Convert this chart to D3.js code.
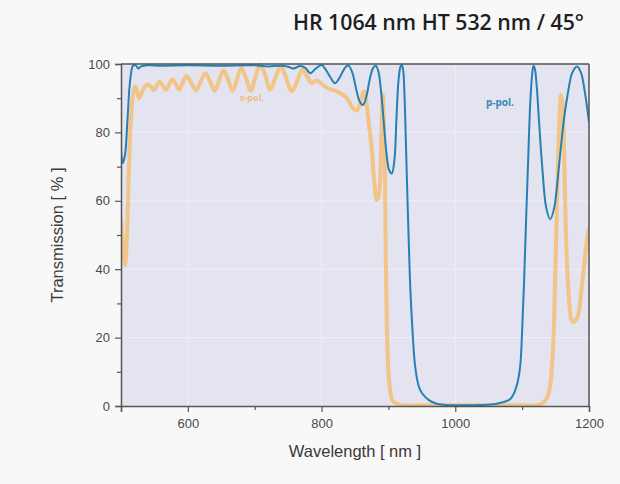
<!DOCTYPE html>
<html><head><meta charset="utf-8">
<script src="https://cdn.jsdelivr.net/npm/d3@7"></script>
<style>
html,body{margin:0;padding:0;background:#f8f8f9;}
svg{display:block;}
</style></head>
<body>
<svg id="c" width="620" height="484"></svg>
<script>
const title = "HR 1064 nm HT 532 nm / 45°";
const xTicks = [600, 800, 1000, 1200];
const xMinor = [700, 900, 1100];
const yTicks = [0, 20, 40, 60, 80, 100];
const yMinor = [10, 30, 50, 70, 90];
const seriesNames = ["p-pol.", "s-pol."];

// p-pol. (blue)
const pWl = [500,502.5,506,509.5,513.5,518,522,526,530,540,560,600,650,700,720,740,750,758,768,776,783,791,800,806,813,820,827,834,840,846,852,857,862,867,872,877,881,885,889,893,897,901,905,909,912,915,918,920,922,924,926,929,932,936,940,945,950,960,970,985,1000,1040,1060,1075,1082,1086,1092,1097,1100,1103,1106,1109,1112,1115,1117,1119,1122,1125,1130,1136,1142,1148,1155,1162,1168,1175,1182,1188,1194,1200];
const pT  = [75,71,73.4,83,94.8,99.5,99.6,98.7,99.3,99.6,99.5,99.6,99.5,99.6,99.3,99.5,99.2,98.7,99.4,98.8,97.3,98.6,99.7,98.4,96.2,94.4,96,98.6,99.6,97.5,92.5,89,88,90.5,95.5,98.8,99.5,97.8,92,83,74,69,68,72,84,95,99.2,99.7,98.3,91,78,57,38,22,11.5,6,3.8,1.8,0.8,0.3,0.2,0.3,0.6,1.3,2,3,6,11.5,22,37,55,72,88,97,99.5,98.6,93,84,70,58,54.6,58,70,83,91,97.5,99.3,97.5,91.5,83];

// s-pol. (orange)
const sWl = [500,503,506,508.5,511,514.5,518,521,524,527,531,535,540,545,549,553,558,563,567,572,577,582,587,592,598,605,612,619,626,633,640,647,653,660,667,674,680,687,694,701,708,716,723,731,739,747,755,763,771,778,785,793,800,808,823,838,847,853,858,863.5,867.5,871,875,879,882.5,885,887.5,889.5,891.5,893,894.5,896,897.5,900,903,907,918,950,1000,1100,1125,1132,1137,1141,1144,1147,1149,1151,1152.6,1155.6,1158,1160,1161.6,1163.5,1165,1169,1175.6,1182,1189,1196.6,1200];
const sT  = [55,47,41.2,48,63.7,83,91,93.4,92.2,90,91.5,93.2,94,93.2,92.4,93.5,94.8,93.5,92.5,94,95.5,94,92.5,94.5,96.5,94.5,92.3,94.8,97.3,95,92.2,95.3,98.2,95.5,92.2,95.8,98.8,95.8,92.2,96.2,99.8,96.5,92.5,96,99.3,96,92,94.8,98.3,96.5,94.5,95.2,94.2,93,92,90,87,86.5,89,92,88,82,75.4,65,60.2,61,65.6,80,91,84,73,44,24.6,10,4,1.3,0.3,0.2,0.2,0.2,0.3,1,2.3,5,10,20,34.5,50,63.7,83,91,89,83,68,54,34.5,24.7,25.6,34.5,48,52];

const svg = d3.select("#c");
const m = {l:121, r:589, t:64, b:406};
const x = d3.scaleLinear().domain([500,1200]).range([m.l, m.r]);
const y = d3.scaleLinear().domain([0,100]).range([m.b, m.t]);

// plot background
svg.append("rect").attr("x", m.l).attr("y", m.t).attr("width", m.r-m.l).attr("height", m.b-m.t).attr("fill", "#e4e3f0");

// grid
const g = svg.append("g");
xTicks.filter(d=>d<1200).forEach(d=>{
  g.append("line").attr("x1", x(d)).attr("x2", x(d)).attr("y1", m.t).attr("y2", m.b).attr("stroke", "#f0eef6").attr("stroke-width", 1);
});
yTicks.filter(d=>d>0 && d<100).forEach(d=>{
  g.append("line").attr("x1", m.l).attr("x2", m.r).attr("y1", y(d)).attr("y2", y(d)).attr("stroke", "#f0eef6").attr("stroke-width", 1);
});

// lines
svg.append("clipPath").attr("id","cl").append("rect").attr("x", m.l).attr("y", m.t-3).attr("width", m.r-m.l).attr("height", m.b-m.t+4);
const line = d3.line().curve(d3.curveCatmullRom.alpha(0.5));
const sPts = sWl.map((w,i)=>[x(w), y(sT[i])]);
const pPts = pWl.map((w,i)=>[x(w), y(pT[i])]);
svg.append("path").attr("d", line(sPts)).attr("fill","none").attr("stroke","#f6bb66").attr("stroke-opacity",0.75).attr("stroke-width",4).attr("stroke-linejoin","round").attr("clip-path","url(#cl)");
svg.append("path").attr("d", line(pPts)).attr("fill","none").attr("stroke","#2580b3").attr("stroke-width",2).attr("stroke-linejoin","round").attr("clip-path","url(#cl)");

// frame
const axc = "#555";
svg.append("line").attr("x1", m.l).attr("x2", m.r).attr("y1", m.t).attr("y2", m.t).attr("stroke", axc).attr("stroke-width", 1.5);
svg.append("line").attr("x1", m.r).attr("x2", m.r).attr("y1", m.t).attr("y2", m.b).attr("stroke", axc).attr("stroke-width", 1.5);

// axes
const xAxis = svg.append("g").attr("transform", `translate(0,${m.b})`)
  .call(d3.axisBottom(x).tickValues([500].concat(xTicks)).tickSize(6).tickPadding(7).tickFormat(d=> d===500 ? "" : d));
const xAxisMinor = svg.append("g").attr("transform", `translate(0,${m.b})`)
  .call(d3.axisBottom(x).tickValues(xMinor).tickSize(4).tickFormat(""));
const yAxis = svg.append("g").attr("transform", `translate(${m.l},0)`)
  .call(d3.axisLeft(y).tickValues(yTicks).tickSize(6).tickPadding(5));
const yAxisMinor = svg.append("g").attr("transform", `translate(${m.l},0)`)
  .call(d3.axisLeft(y).tickValues(yMinor).tickSize(4).tickFormat(""));
[xAxis, xAxisMinor, yAxis, yAxisMinor].forEach(a=>{
  a.selectAll("path.domain").attr("stroke", axc).attr("stroke-width", 1.5);
  a.selectAll(".tick line").attr("stroke", axc).attr("stroke-width", 1.2);
  a.selectAll("text").attr("fill", "#4a4a4a").attr("font-family", "'Liberation Sans', Arial, sans-serif").attr("font-size", "13px");
});
xAxisMinor.select("path.domain").remove();
yAxisMinor.select("path.domain").remove();

// axis titles
svg.append("text").attr("x", 355).attr("y", 457).attr("text-anchor","middle")
  .attr("fill","#3a3a3a").attr("font-family","'Liberation Sans', Arial, sans-serif").attr("font-size","16.5px")
  .text("Wavelength [ nm ]");
svg.append("text").attr("transform", "translate(63,235) rotate(-90)").attr("text-anchor","middle")
  .attr("fill","#3a3a3a").attr("font-family","'Liberation Sans', Arial, sans-serif").attr("font-size","16.5px")
  .text("Transmission [ % ]");

// series labels
svg.append("text").attr("x", 486).attr("y", 106).attr("fill","#3a86bb")
  .attr("font-family","'Open Sans', sans-serif").attr("font-weight","700").attr("font-size","10px")
  .text(seriesNames[0]);
svg.append("text").attr("x", 240).attr("y", 101).attr("fill","#f2b468").attr("opacity",0.8)
  .attr("font-family","'Open Sans', sans-serif").attr("font-weight","700").attr("font-size","9px")
  .text(seriesNames[1]);

// title
svg.append("text").attr("x", 584).attr("y", 30).attr("text-anchor","end")
  .attr("fill","#1e1e1e").attr("font-family","'Open Sans', sans-serif").attr("font-weight","600").attr("font-size","21.3px")
  .text(title);
</script>
</body></html>
